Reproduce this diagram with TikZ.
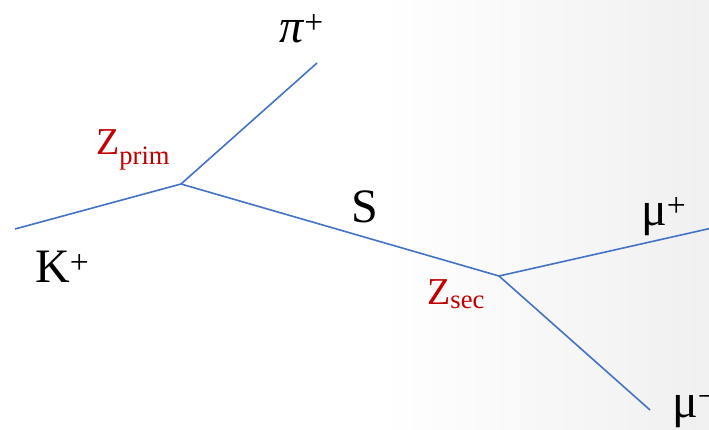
\documentclass[tikz,border=0pt]{standalone}
\usepackage{fontspec}
\setmainfont{Liberation Serif}
\usetikzlibrary{positioning}
\definecolor{trackblue}{HTML}{4472C4}
\definecolor{vtxred}{HTML}{C00000}
\tikzset{
  track/.style={trackblue, line width=1.6pt},
  ptcl/.style={font=\fontsize{48}{52}\selectfont, inner sep=0pt, anchor=base west},
  vtx/.style={vtxred, font=\fontsize{38}{42}\selectfont, inner sep=0pt, anchor=base west}
}
\begin{document}
\begin{tikzpicture}[x=1pt, y=-1pt]
  % background: white fading to light grey on the right
  \useasboundingbox (0,0) rectangle (709,430);
  \clip (0,0) rectangle (709,430);
  \fill[white] (0,0) rectangle (709,430);
  \shade[left color=white, right color=black!6] (380,0) rectangle (709,430);

  % vertices and track ends
  \coordinate (kin) at (15,229);
  \coordinate (zprim) at (181,184);
  \coordinate (piout) at (317,63);
  \coordinate (zsec) at (499,276);
  \coordinate (muplus) at (712,228);
  \coordinate (muminus) at (650,410);

  % tracks
  \draw[track] (kin) -- (zprim);
  \draw[track] (zprim) -- (piout);
  \draw[track] (zprim) -- (zsec);
  \draw[track] (zsec) -- (muplus);
  \draw[track] (zsec) -- (muminus);

  % particle labels
  \node[ptcl] (lblpi) at (279,43) {\textit{π}\textsuperscript{+}};
  \node[ptcl] (lblk) at (35,283) {K\textsuperscript{+}};
  \node[ptcl] (lbls) at (351,223) {S};
  \node[ptcl] (lblmup) at (641,226) {μ\textsuperscript{+}};
  \node[ptcl] (lblmum) at (672,417) {μ\textsuperscript{−}};

  % vertex labels
  \node[vtx] (lblzprim) at (96,155) {Z\textsubscript{prim}};
  \node[vtx] (lblzsec) at (427,305) {Z\textsubscript{sec}};
\end{tikzpicture}
\end{document}
